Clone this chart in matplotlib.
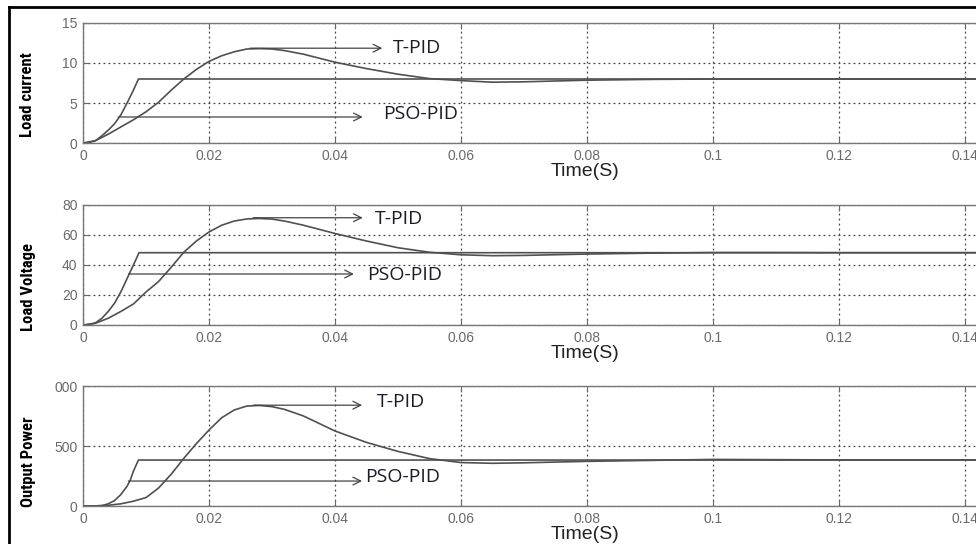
import matplotlib
matplotlib.use("Agg")
import matplotlib.pyplot as plt
from matplotlib.lines import Line2D

# ---- data ----
t_tpid = [0, 0.002, 0.004, 0.006, 0.008, 0.010, 0.012, 0.014, 0.016, 0.018,
          0.020, 0.022, 0.024, 0.026, 0.028, 0.030, 0.032, 0.035, 0.040, 0.045,
          0.050, 0.055, 0.060, 0.065, 0.070, 0.080, 0.090, 0.100, 0.110, 0.120,
          0.130, 0.150]
current_tpid = [0, 0.3, 1.1, 2.0, 2.9, 3.9, 5.1, 6.6, 8.0, 9.2,
                10.2, 10.9, 11.4, 11.75, 11.8, 11.75, 11.55, 11.1, 10.1, 9.3,
                8.6, 8.05, 7.8, 7.6, 7.65, 7.85, 7.95, 8.0, 8.0, 8.0,
                8.0, 8.0]
voltage_tpid = [0, 1.2, 4.5, 9.0, 14.0, 22.0, 29.0, 38.5, 48.5, 56.0,
                62.0, 66.5, 69.3, 70.7, 71.0, 70.6, 69.3, 66.5, 61.0, 56.0,
                51.5, 48.5, 46.8, 46.2, 46.4, 47.3, 47.9, 48.3, 48.3, 48.2,
                48.2, 48.2]
power_tpid = [0, 1, 6, 18, 40, 70, 150, 265, 397, 520,
              633, 735, 800, 833, 838, 828, 805, 750, 625, 530,
              455, 395, 362, 356, 360, 372, 380, 388, 386, 384,
              384, 384]

t_pso_i = [0, 0.001, 0.002, 0.003, 0.004, 0.005, 0.006, 0.007, 0.008, 0.0088, 0.150]
current_pso = [0, 0.05, 0.3, 0.9, 1.6, 2.4, 3.5, 5.0, 6.6, 8.0, 8.0]

t_pso_v = [0, 0.001, 0.002, 0.003, 0.004, 0.005, 0.006, 0.007, 0.008, 0.0089, 0.150]
voltage_pso = [0, 0.3, 1.5, 4.5, 9.0, 14.5, 22.0, 31.0, 40.0, 48.2, 48.2]

t_pso_p = [0, 0.002, 0.003, 0.004, 0.005, 0.006, 0.007, 0.0075, 0.008, 0.0088, 0.150]
power_pso = [0, 0, 3, 18, 45, 95, 165, 215, 290, 383, 383]

xticks = [0, 0.02, 0.04, 0.06, 0.08, 0.10, 0.12, 0.14]
xticklabels = ['0', '0.02', '0.04', '0.06', '0.08', '0.1', '0.12', '0.14']

panels = [
    dict(ylabel='Load current', ylim=(0, 15), yticks=[0, 5, 10, 15],
         yticklabels=['0', '5', '10', '15'],
         tpid=current_tpid, pso=current_pso, t_pso=t_pso_i,
         tpid_arrow=(0.0265, 11.85, 0.0475), tpid_text=(0.0492, 11.9),
         pso_arrow=(0.0056, 3.25, 0.0444), pso_text=(0.0477, 3.6)),
    dict(ylabel='Load Voltage', ylim=(0, 80), yticks=[0, 20, 40, 60, 80],
         yticklabels=['0', '20', '40', '60', '80'],
         tpid=voltage_tpid, pso=voltage_pso, t_pso=t_pso_v,
         tpid_arrow=(0.027, 71.5, 0.0444), tpid_text=(0.0463, 71),
         pso_arrow=(0.0072, 34, 0.0430), pso_text=(0.0451, 33)),
    dict(ylabel='Output Power', ylim=(0, 1000), yticks=[0, 500, 1000],
         yticklabels=['0', '500', '000'],
         tpid=power_tpid, pso=power_pso, t_pso=t_pso_p,
         tpid_arrow=(0.027, 840, 0.0443), tpid_text=(0.0467, 865),
         pso_arrow=(0.0072, 208, 0.0443), pso_text=(0.0448, 240)),
]

W, H = 976, 544
fig = plt.figure(figsize=(W / 100, H / 100), dpi=100)
plt.rcParams['font.family'] = ['Liberation Sans', 'DejaVu Sans']

# axes tops / bottoms in pixels
ax_px = [(23, 143), (205, 325), (386, 506)]
ylab_px = [95, 287, 462]
left_px = 83
x_max = 0.15
width_px = x_max / 0.02 * 126

line_col = '#505050'
grey = '#6a6a6a'
label_font = ['Roboto Condensed', 'DejaVu Sans Condensed', 'Liberation Sans Narrow',
              'Liberation Sans']

for p, (top, bot), ly in zip(panels, ax_px, ylab_px):
    ax = fig.add_axes([left_px / W, 1 - bot / H, width_px / W, (bot - top) / H])
    ax.plot(t_tpid, p['tpid'], color=line_col, lw=1.2)
    ax.plot(p['t_pso'], p['pso'], color=line_col, lw=1.2)
    ax.set_xlim(0, x_max)
    ax.set_ylim(*p['ylim'])
    ax.set_xticks(xticks)
    ax.set_xticklabels(xticklabels)
    ax.set_yticks(p['yticks'])
    ax.set_yticklabels(p['yticklabels'])
    ax.grid(True, linestyle=(0, (1.5, 2.5)), color='#444444', lw=0.9)
    ax.tick_params(direction='in', length=4, top=True, right=True,
                   color=grey, labelcolor=grey, labelsize=10, pad=4)
    for s in ax.spines.values():
        s.set_color('#777777')
        s.set_linewidth(1.0)
    ax.set_xlabel('Time(S)', fontsize=14, color='#222222')
    ax.xaxis.set_label_coords((585 - left_px) / width_px, -0.17)

    x0, y0, x1 = p['tpid_arrow']
    ax.annotate('', xy=(x1, y0), xytext=(x0, y0),
                arrowprops=dict(arrowstyle='->', color='#444444', lw=0.9,
                                mutation_scale=14, shrinkA=0, shrinkB=0))
    ax.text(p['tpid_text'][0], p['tpid_text'][1], 'T-PID', family='Open Sans',
            fontsize=14, color='#1c1c28', va='center', ha='left')
    x0, y0, x1 = p['pso_arrow']
    ax.annotate('', xy=(x1, y0), xytext=(x0, y0),
                arrowprops=dict(arrowstyle='->', color='#444444', lw=0.9,
                                mutation_scale=14, shrinkA=0, shrinkB=0))
    ax.text(p['pso_text'][0], p['pso_text'][1], 'PSO-PID', family='Open Sans',
            fontsize=14, color='#1c1c28', va='center', ha='left')

    fig.text(28 / W, 1 - ly / H, p['ylabel'], rotation=90, ha='center', va='center',
             family=label_font, fontweight='bold', fontsize=12, color='black')

# black frame lines on the left and top
fig.add_artist(Line2D([9 / W, 9 / W], [0, 1 - 7 / H], color='black', lw=2,
                      transform=fig.transFigure))
fig.add_artist(Line2D([9 / W, 1], [1 - 7 / H, 1 - 7 / H], color='black', lw=2,
                      transform=fig.transFigure))

fig.savefig('out.png', dpi=100)
